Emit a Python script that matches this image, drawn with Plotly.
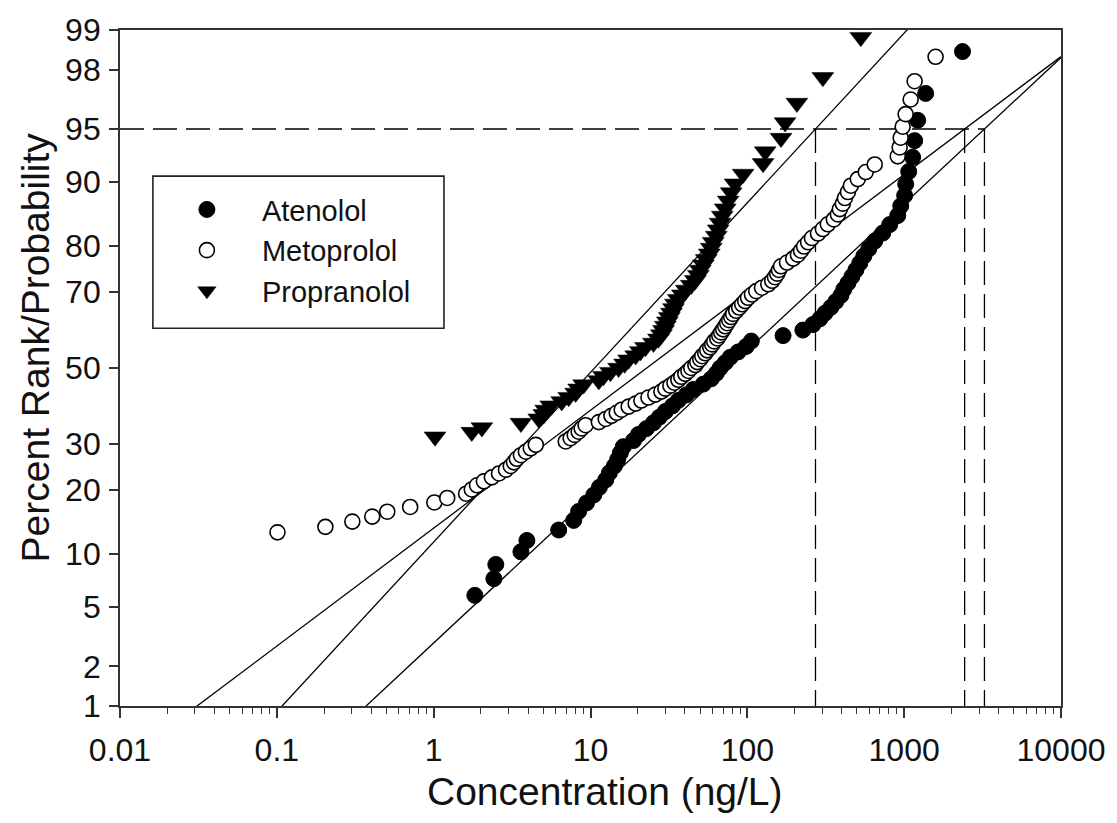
import math
import plotly.graph_objects as go
from statistics import NormalDist

_nd = NormalDist()


def zscore(pct):
    return _nd.inv_cdf(pct / 100.0)


# ---------------- data ----------------
atenolol_conc = [1.83, 2.42, 2.49, 3.60, 3.93, 6.27, 7.81, 8.40, 9.44, 10.5, 11.4, 12.5, 13.2, 14.2, 14.9, 15.5,
                 16.2, 18.8, 20.2, 22.7, 25.2, 27.5, 30.0, 33.3, 36.3, 40.8, 45.2, 52.4, 58.9, 63.4, 67.1, 72.3,
                 77.8, 87.4, 98.2, 106, 169, 226, 262, 290, 313, 341, 367, 395, 412, 438, 464, 492,
                 521, 553, 595, 649, 730, 809, 910, 951, 1007, 1023, 1069, 1133, 1167, 1219, 1371, 2355]
atenolol_pct = [5.88, 7.35, 8.82, 10.29, 11.76, 13.24, 14.71, 16.18, 17.65, 19.12, 20.59, 22.06, 23.53, 25.00,
                26.47, 27.94, 29.41, 30.88, 32.35, 33.82, 35.29, 36.76, 38.24, 39.71, 41.18, 42.65, 44.12, 45.59,
                47.06, 48.53, 50.00, 51.47, 52.94, 54.41, 55.88, 57.35, 58.82, 60.29, 61.76, 63.24, 64.71, 66.18,
                67.65, 69.12, 70.59, 72.06, 73.53, 75.00, 76.47, 77.94, 79.41, 80.88, 82.35, 83.82, 85.29, 86.76,
                88.24, 89.71, 91.18, 92.65, 94.12, 95.59, 97.06, 98.53]

metoprolol_conc = [0.101, 0.204, 0.303, 0.406, 0.506, 0.708, 1.01, 1.22, 1.61, 1.75, 1.89, 2.09, 2.35, 2.61,
                   2.89, 3.10, 3.25, 3.39, 3.60, 3.87, 4.16, 4.48, 6.95, 7.47, 7.93, 8.40, 8.78, 9.31, 11.3,
                   12.5, 13.6, 14.7, 15.8, 17.5, 19.4, 21.1, 23.4, 25.9, 28.3, 30.0, 32.3, 34.3, 36.3, 37.9,
                   40.2, 42.1, 43.9, 46.6, 48.0, 50.1, 51.6, 53.9, 55.5, 58.0, 59.7, 61.5, 64.3, 66.2, 68.1,
                   70.2, 72.3, 74.4, 76.6, 78.9, 81.2, 84.9, 88.7, 92.7, 96.8, 101, 107, 114, 124, 136, 144,
                   150, 155, 159, 164, 179, 196, 210, 220, 230, 244, 258, 282, 303, 326, 356, 378, 389, 406,
                   419, 438, 457, 506, 569, 649, 910, 936, 950, 978, 1022, 1100, 1166, 1586]
metoprolol_pct = [12.90, 13.71, 14.52, 15.32, 16.13, 16.94, 17.74, 18.55, 19.35, 20.16, 20.97, 21.77, 22.58,
                  23.39, 24.19, 25.00, 25.81, 26.61, 27.42, 28.23, 29.03, 29.84, 30.65, 31.45, 32.26, 33.06,
                  33.87, 34.68, 35.48, 36.29, 37.10, 37.90, 38.71, 39.52, 40.32, 41.13, 41.94, 42.74, 43.55,
                  44.35, 45.16, 45.97, 46.77, 47.58, 48.39, 49.19, 50.00, 50.81, 51.61, 52.42, 53.23, 54.03,
                  54.84, 55.65, 56.45, 57.26, 58.06, 58.87, 59.68, 60.48, 61.29, 62.10, 62.90, 63.71, 64.52,
                  65.32, 66.13, 66.94, 67.74, 68.55, 69.35, 70.16, 70.97, 71.77, 72.58, 73.39, 74.19, 75.00,
                  75.81, 76.61, 77.42, 78.23, 79.03, 79.84, 80.65, 81.45, 82.26, 83.06, 83.87, 84.68, 85.48,
                  86.29, 87.10, 87.90, 88.71, 89.52, 90.32, 91.13, 91.94, 92.74, 93.55, 94.35, 95.16, 95.97,
                  96.77, 97.58, 98.39]

propranolol_conc = [1.02, 1.75, 2.03, 3.60, 4.68, 5.04, 5.18, 5.58, 6.55, 7.26, 8.04, 8.40, 9.04, 11.3, 12.1,
                    13.4, 15.1, 16.5, 17.5, 19.4, 20.8, 22.4, 25.2, 27.1, 28.3, 29.2, 30.0, 30.9, 31.8, 32.8,
                    33.8, 34.8, 36.3, 38.5, 40.8, 43.9, 46.6, 48.7, 50.1, 52.4, 54.7, 57.2, 58.9, 60.6, 63.4,
                    65.2, 67.1, 69.2, 72.3, 75.5, 78.9, 83.6, 94.0, 126, 130, 164, 174, 207, 303, 529]
propranolol_pct = [31.82, 32.95, 34.09, 35.23, 36.36, 37.50, 38.64, 39.77, 40.91, 42.05, 43.18, 44.32, 45.45,
                   46.59, 47.73, 48.86, 50.00, 51.14, 52.27, 53.41, 54.55, 55.68, 56.82, 57.95, 59.09, 60.23,
                   61.36, 62.50, 63.64, 64.77, 65.91, 67.05, 68.18, 69.32, 70.45, 71.59, 72.73, 73.86, 75.00,
                   76.14, 77.27, 78.41, 79.55, 80.68, 81.82, 82.95, 84.09, 85.23, 86.36, 87.50, 88.64, 89.77,
                   90.91, 92.05, 93.18, 94.32, 95.45, 96.59, 97.73, 98.86]

# fitted log-normal lines: concentration at the 1st and 95th percentile
fit_names = ["Atenolol", "Metoprolol", "Propranolol"]
fit_conc_p1 = [0.371, 0.031, 0.108]
fit_conc_p95 = [3250, 2430, 272]
ref_pct = 95

x_tick_vals = [0.01, 0.1, 1, 10, 100, 1000, 10000]
x_tick_text = ["0.01", "0.1", "1", "10", "100", "1000", "10000"]
y_tick_pcts = [1, 2, 5, 10, 20, 30, 50, 70, 80, 90, 95, 98, 99]

# ---------------- figure ----------------
FONT = "Liberation Sans, Arial, Helvetica, sans-serif"
INK = "#000000"
AXC = "#333333"
TXT = "#111111"

fig = go.Figure()

x_lo, x_hi = 0.01, 10000
z95 = zscore(ref_pct)
z01 = zscore(1)
for name, c1, c95 in zip(fit_names, fit_conc_p1, fit_conc_p95):
    l1, l95 = math.log10(c1), math.log10(c95)
    slope = (z95 - z01) / (l95 - l1)
    xs = [x_lo, x_hi]
    ys = [z01 + slope * (math.log10(v) - l1) for v in xs]
    fig.add_trace(go.Scatter(x=xs, y=ys, mode="lines", line=dict(color=INK, width=1.3),
                             showlegend=False, hoverinfo="skip"))

# dashed reference lines at the 95th percentile
fig.add_trace(go.Scatter(x=[x_lo, max(fit_conc_p95)], y=[z95, z95], mode="lines",
                         line=dict(color=INK, width=1.3, dash="24px,9px"), showlegend=False, hoverinfo="skip"))
for c95 in fit_conc_p95:
    fig.add_trace(go.Scatter(x=[c95, c95], y=[z95, z01], mode="lines",
                             line=dict(color=INK, width=1.3, dash="24px,9px"), showlegend=False,
                             hoverinfo="skip"))

fig.add_trace(go.Scatter(x=atenolol_conc, y=[zscore(p) for p in atenolol_pct], mode="markers",
                         name="Atenolol",
                         marker=dict(symbol="circle", size=16, color=INK, line=dict(width=1, color=INK))))
fig.add_trace(go.Scatter(x=metoprolol_conc, y=[zscore(p) for p in metoprolol_pct], mode="markers",
                         name="Metoprolol",
                         marker=dict(symbol="circle", size=15, color="white", line=dict(width=1.6, color=INK))))
fig.add_trace(go.Scatter(x=propranolol_conc, y=[zscore(p) for p in propranolol_pct], mode="markers",
                         name="Propranolol",
                         marker=dict(symbol="triangle-down", size=19, color=INK, line=dict(width=0.5, color=INK))))

minor_vals = [m * 10 ** e for e in range(-2, 4) for m in range(2, 10)]

fig.update_xaxes(type="log", range=[-2, 4], tickmode="array", tickvals=x_tick_vals, ticktext=x_tick_text,
                 ticks="outside", ticklen=10, tickwidth=1.5, tickcolor=AXC,
                 showline=True, linecolor=AXC, linewidth=1.8, mirror=True,
                 showgrid=False, zeroline=False,
                 tickfont=dict(family=FONT, size=32, color=TXT), ticklabelstandoff=5,
                 minor=dict(tickmode="array", tickvals=minor_vals, ticks="outside", ticklen=6,
                            tickwidth=1.2, tickcolor=AXC, showgrid=False))
fig.update_yaxes(range=[zscore(1), zscore(99)], tickmode="array",
                 tickvals=[zscore(p) for p in y_tick_pcts], ticktext=[str(p) for p in y_tick_pcts],
                 ticks="outside", ticklen=9, tickwidth=1.5, tickcolor=AXC,
                 showline=True, linecolor=AXC, linewidth=1.8, mirror=True,
                 showgrid=False, zeroline=False,
                 tickfont=dict(family=FONT, size=32, color=TXT), ticklabelstandoff=2)

W, H = 1117, 823
L, R, T, B = 120, 53, 26, 117
pw, ph = W - L - R, H - T - B


def px_to_paper_x(px):
    return (px - L) / pw


def px_to_paper_y(py):
    return (H - B - py) / ph


fig.update_layout(
    width=W, height=H,
    margin=dict(l=L, r=R, t=T, b=B, pad=0),
    paper_bgcolor="white", plot_bgcolor="white",
    font=dict(family=FONT, color=TXT),
    showlegend=True,
    legend=dict(x=px_to_paper_x(152), y=px_to_paper_y(181), xanchor="left", yanchor="top",
                bgcolor="rgba(0,0,0,0)", borderwidth=0, itemwidth=100,
                font=dict(family=FONT, size=29, color=TXT), tracegroupgap=0),
    shapes=[dict(type="rect", xref="paper", yref="paper",
                 x0=px_to_paper_x(153), x1=px_to_paper_x(445),
                 y0=px_to_paper_y(326), y1=px_to_paper_y(173),
                 line=dict(color="#222222", width=1.6), fillcolor="white", layer="below")],
    annotations=[
        dict(text="Concentration (ng/L)", xref="paper", yref="paper",
             x=px_to_paper_x(607), y=px_to_paper_y(792), xanchor="center", yanchor="middle",
             showarrow=False, font=dict(family=FONT, size=39, color=TXT)),
        dict(text="Percent Rank/Probability", xref="paper", yref="paper",
             x=px_to_paper_x(35), y=px_to_paper_y(345), xanchor="center", yanchor="middle",
             textangle=-90, showarrow=False, font=dict(family=FONT, size=39, color=TXT)),
    ],
)

fig.write_html("out.html", config={"displayModeBar": False},
               post_script="document.body.style.margin='0px';document.body.style.overflow='hidden';")
